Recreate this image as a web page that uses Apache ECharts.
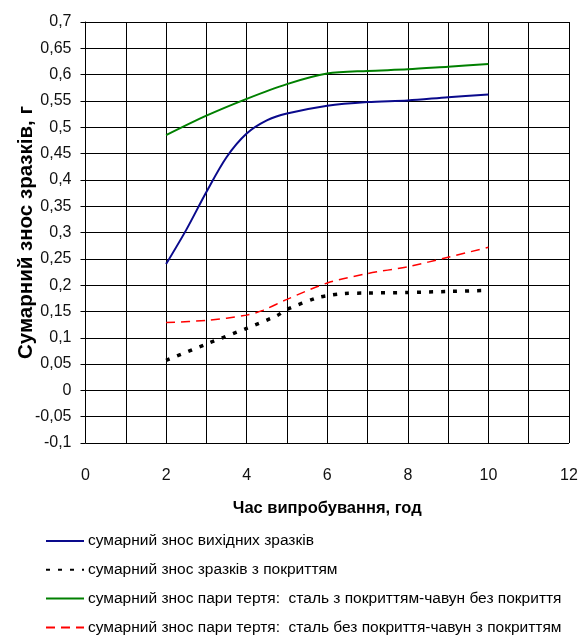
<!DOCTYPE html>
<html>
<head>
<meta charset="utf-8">
<script src="https://cdn.jsdelivr.net/npm/echarts@6/dist/echarts.min.js"></script>
<style>
html,body{margin:0;padding:0;background:#fff;}
#chart{width:580px;height:637px;}
</style>
</head>
<body>
<div id="chart"></div>
<script>
// Data
var seriesNames = [
  'сумарний знос вихідних зразків',
  'сумарний знос зразків з покриттям',
  'сумарний знос пари тертя:  сталь з покриттям-чавун без покриття',
  'сумарний знос пари тертя:  сталь без покриття-чавун з покриттям'
];
var blueX = [2, 2.5, 3, 3.5, 4, 4.5, 5, 6, 7, 8, 9, 10];
var blueY = [0.24, 0.305, 0.377, 0.443, 0.488, 0.513, 0.526, 0.541, 0.548, 0.551, 0.557, 0.562];
var blackX = [2, 3, 4, 4.75, 5, 5.75, 6, 6.4, 7, 8, 9, 10];
var blackY = [0.057, 0.088, 0.118, 0.142, 0.154, 0.176, 0.180, 0.184, 0.185, 0.186, 0.188, 0.19];
var greenX = [2, 3, 4, 5, 6, 7, 8, 9, 10];
var greenY = [0.485, 0.522, 0.554, 0.582, 0.602, 0.607, 0.610, 0.615, 0.620];
var redX = [2, 3, 4, 4.4, 5, 6, 7, 8, 9, 10];
var redY = [0.129, 0.133, 0.143, 0.152, 0.173, 0.204, 0.222, 0.235, 0.253, 0.272];
var xMin = 0, xMax = 12, xStep = 1;
var yMin = -0.1, yMax = 0.7, yStep = 0.05;

function pairs(xs, ys){ return xs.map(function(x,i){ return [x, ys[i]]; }); }

var FONT = "'Liberation Sans', Arial, sans-serif";
var chart = echarts.init(document.getElementById('chart'));
chart.setOption({
  animation: false,
  backgroundColor: '#fff',
  textStyle: { fontFamily: FONT, color: '#000' },
  grid: { left: 85.5, right: 11, top: 22, bottom: 194, containLabel: false, outerBoundsMode: 'none' },
  xAxis: {
    type: 'value', min: xMin, max: xMax, interval: xStep,
    name: 'Час випробування, год', nameLocation: 'middle', nameGap: 57, nameMoveOverlap: false,
    nameTextStyle: { fontFamily: FONT, fontSize: 16.5, fontWeight: 'bold', color: '#000' },
    axisLine: { show: true, lineStyle: { color: '#000', width: 1 } },
    axisTick: { show: false },
    axisLabel: {
      margin: 25, fontSize: 16, color: '#111', fontFamily: FONT,
      formatter: function(v){ return (Math.round(v) % 2 === 0) ? String(Math.round(v)) : ''; }
    },
    splitLine: { show: true, lineStyle: { color: '#000', width: 1 } }
  },
  yAxis: {
    type: 'value', min: yMin, max: yMax, interval: yStep,
    name: 'Сумарний знос зразків, г', nameLocation: 'middle', nameGap: 49, nameMoveOverlap: false,
    nameTextStyle: { fontFamily: FONT, fontSize: 20.5, fontWeight: 'bold', color: '#000' },
    axisLine: { show: true, lineStyle: { color: '#000', width: 1 } },
    axisTick: { show: true, inside: false, length: 5, lineStyle: { color: '#000' } },
    axisLabel: {
      margin: 14, fontSize: 16, color: '#111', fontFamily: FONT,
      formatter: function(v){ return String(Math.round(v*100)/100).replace('.', ','); }
    },
    splitLine: { show: true, lineStyle: { color: '#000', width: 1 } }
  },
  legend: {
    orient: 'vertical', left: 45, top: 533, padding: 0,
    itemWidth: 38, itemHeight: 14, itemGap: 12.8,
    itemStyle: { opacity: 0 },
    textStyle: { fontFamily: FONT, fontSize: 15.5, lineHeight: 14, color: '#000', padding: [0,0,0,-1] },
    data: seriesNames
  },
  series: [
    { name: seriesNames[0], type: 'line', smooth: 0.3, symbol: 'none', data: pairs(blueX, blueY),
      lineStyle: { color: '#0a0a8c', width: 2 }, itemStyle: { color: '#0a0a8c' } },
    { name: seriesNames[1], type: 'line', smooth: 0.3, symbol: 'none', data: pairs(blackX, blackY),
      lineStyle: { color: '#000', width: 3.5, type: [4, 8] }, itemStyle: { color: '#000' } },
    { name: seriesNames[2], type: 'line', smooth: 0.3, symbol: 'none', data: pairs(greenX, greenY),
      lineStyle: { color: '#008000', width: 2 }, itemStyle: { color: '#008000' } },
    { name: seriesNames[3], type: 'line', smooth: 0.3, symbol: 'none', data: pairs(redX, redY),
      lineStyle: { color: '#ff0000', width: 1.5, type: [9, 6] }, itemStyle: { color: '#ff0000' } }
  ]
});
</script>
</body>
</html>
